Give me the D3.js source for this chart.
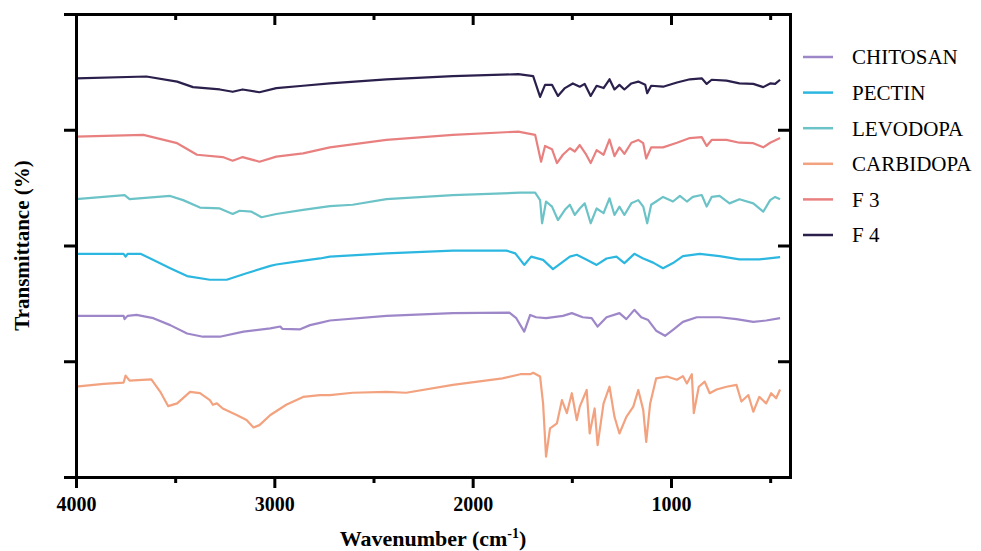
<!DOCTYPE html>
<html>
<head>
<meta charset="utf-8">
<script src="https://cdn.jsdelivr.net/npm/d3@7"></script>
<style>
  body { margin: 0; background: #fff; }
  svg { display: block; }
</style>
</head>
<body>
<div id="chart"></div>
<script>
// legend order and colours
const names = ["CHITOSAN", "PECTIN", "LEVODOPA", "CARBIDOPA", "F 3", "F 4"];
const colors = ["#9e87c9", "#2cb7e1", "#6cc3c7", "#f3a27f", "#e98080", "#2b1f4c"];

const xMajorTicks = [4000, 3000, 2000, 1000];
const xMinorTicks = [3500, 2500, 1500, 500];
const yTicks = [0, 25, 50, 75, 100];

// [wavenumber cm-1, stacked transmittance]
const chitosan = [[4000,34.8],[3760,34.8],[3755,34.1],[3740,34.8],[3695,35.0],[3610,34.3],[3525,32.8],[3440,31.0],
  [3360,30.3],[3275,30.3],[3155,31.4],[3020,32.1],[2970,32.5],[2960,32.0],[2870,31.9],[2820,32.8],[2770,33.3],
  [2720,33.8],[2435,34.8],[2100,35.4],[1815,35.5],[1780,34.3],[1740,31.4],[1710,35.0],[1680,34.5],[1630,34.3],
  [1545,34.8],[1500,35.4],[1445,34.5],[1400,34.3],[1370,32.5],[1325,34.5],[1260,35.4],[1225,34.1],[1185,36.1],
  [1150,34.5],[1115,33.9],[1075,31.6],[1030,30.5],[990,31.8],[940,33.5],[870,34.5],[755,34.5],[670,34.1],
  [585,33.5],[520,33.8],[450,34.3]];

const pectin = [[4000,48.2],[3760,48.2],[3750,47.6],[3740,48.2],[3675,48.2],[3625,47.2],[3525,45.1],[3440,43.4],
  [3325,42.6],[3240,42.6],[3140,44.0],[3020,45.6],[2990,45.9],[2890,46.5],[2770,47.2],[2720,47.6],[2435,48.3],
  [2100,48.9],[1830,48.9],[1785,48.3],[1740,45.8],[1705,47.6],[1645,46.9],[1595,44.9],[1510,47.6],[1475,48.0],
  [1425,46.9],[1375,45.8],[1325,47.2],[1275,47.6],[1235,46.2],[1185,48.2],[1140,47.2],[1090,46.3],[1040,45.1],
  [990,46.2],[940,47.7],[855,48.2],[755,47.7],[655,47.0],[555,47.0],[450,47.5]];

const levodopa = [[4000,60.0],[3755,60.9],[3730,60.0],[3525,60.7],[3460,59.8],[3375,58.2],[3275,58.0],[3210,56.8],
  [3175,57.5],[3115,57.3],[3065,56.1],[2990,56.8],[2855,57.7],[2720,58.5],[2605,58.8],[2435,60.0],[2100,60.9],
  [1760,61.4],[1685,61.4],[1660,59.8],[1650,54.8],[1630,59.5],[1600,58.4],[1570,55.5],[1535,57.7],[1510,58.8],
  [1485,56.6],[1460,58.0],[1435,59.1],[1405,54.8],[1375,58.0],[1340,57.0],[1310,60.2],[1285,56.6],[1260,58.4],
  [1235,56.6],[1200,59.1],[1165,59.8],[1140,58.4],[1120,54.8],[1100,58.8],[1075,59.5],[1040,60.5],[990,59.5],
  [955,60.7],[920,59.5],[890,60.5],[845,60.9],[820,58.4],[795,60.5],[755,60.7],[705,59.1],[655,60.0],
  [585,59.1],[535,57.3],[500,59.8],[475,60.5],[450,60.0]];

const carbidopa = [[4000,19.5],[3860,20.1],[3760,20.4],[3750,21.9],[3730,20.8],[3620,21.1],[3575,18.4],[3535,15.3],
  [3490,15.9],[3425,18.4],[3375,18.1],[3325,16.6],[3310,15.6],[3290,15.9],[3260,14.8],[3190,13.4],[3140,12.3],
  [3105,10.7],[3075,11.2],[3020,13.4],[2940,15.6],[2855,17.3],[2770,17.7],[2720,17.7],[2605,18.2],[2435,18.4],
  [2335,18.2],[2100,19.9],[1850,21.3],[1760,22.2],[1710,22.2],[1695,22.5],[1660,21.7],[1645,15.9],[1630,4.4],
  [1610,10.5],[1575,11.6],[1550,16.6],[1525,13.8],[1500,18.1],[1475,12.3],[1460,15.2],[1425,18.8],[1410,9.4],
  [1385,14.8],[1370,6.9],[1340,15.9],[1310,19.5],[1285,13.0],[1260,9.4],[1225,13.0],[1190,15.2],[1165,18.8],
  [1140,14.5],[1125,7.6],[1105,15.9],[1075,21.3],[1020,21.7],[970,21.0],[940,21.8],[920,20.2],[895,22.2],
  [885,13.8],[860,19.5],[830,20.6],[805,18.1],[770,18.9],[720,19.5],[670,19.9],[645,16.3],[610,17.7],
  [585,14.1],[555,17.3],[520,15.9],[495,18.1],[470,17.0],[450,18.9]];

const f3 = [[4000,73.5],[3660,73.9],[3490,72.1],[3390,69.6],[3260,69.1],[3210,68.3],[3160,69.1],[3075,68.1],
  [2990,69.2],[2855,69.9],[2720,71.2],[2435,72.8],[2100,73.9],[1770,74.6],[1685,73.9],[1655,68.1],[1635,71.5],
  [1600,70.8],[1575,67.8],[1545,69.6],[1510,71.0],[1485,70.3],[1460,71.7],[1430,69.8],[1405,67.8],[1375,70.6],
  [1340,69.6],[1310,72.9],[1285,69.3],[1260,71.2],[1235,69.8],[1200,72.2],[1165,72.8],[1140,72.1],[1125,68.8],
  [1100,71.2],[1040,71.2],[970,72.2],[905,73.2],[845,73.4],[820,71.5],[795,72.8],[720,72.8],[655,72.2],
  [585,72.1],[535,71.2],[500,72.2],[450,73.2]];

const f4 = [[4000,86.1],[3645,86.5],[3490,85.4],[3410,84.2],[3275,83.7],[3210,83.2],[3160,83.7],[3075,83.1],
  [2990,84.0],[2855,84.5],[2720,85.0],[2435,85.9],[2100,86.6],[1770,87.0],[1695,86.6],[1660,82.1],[1635,84.7],
  [1600,84.7],[1570,82.3],[1535,84.0],[1495,85.0],[1460,84.3],[1435,84.9],[1405,82.3],[1375,84.5],[1340,84.0],
  [1310,85.9],[1285,83.7],[1260,84.7],[1235,83.7],[1200,85.0],[1165,85.4],[1130,84.7],[1120,82.9],[1100,84.5],
  [1040,84.3],[970,85.2],[905,85.9],[845,86.1],[820,84.9],[795,85.8],[720,85.6],[655,85.0],[585,84.9],
  [535,84.2],[500,85.0],[475,84.9],[450,85.8]];

const series = [chitosan, pectin, levodopa, carbidopa, f3, f4];

const serif = "'Liberation Serif', 'Times New Roman', serif";

function renderChart() {
    const width = 981;
    const height = 551;
    const margin = { top: 14, right: 191, bottom: 74, left: 76 };

    const svg = d3.select("#chart")
        .append("svg")
        .attr("width", width)
        .attr("height", height);

    // wavenumber runs right to left
    const x = d3.scaleLinear()
        .domain([4000, 400])
        .range([margin.left, width - margin.right]);

    const y = d3.scaleLinear()
        .domain([0, 100])
        .range([height - margin.bottom, margin.top]);

    const line = d3.line()
        .x(d => x(d[0]))
        .y(d => y(d[1]));

    // spectra
    svg.append("g")
        .selectAll("path")
        .data(series)
        .enter()
        .append("path")
        .attr("d", line)
        .attr("fill", "none")
        .attr("stroke", (d, i) => colors[i])
        .attr("stroke-width", 2.2)
        .attr("stroke-linejoin", "round");

    const x0 = margin.left, x1 = width - margin.right;
    const y0 = margin.top, y1 = height - margin.bottom;

    // bottom axis, with labels
    svg.append("g")
        .attr("class", "axis")
        .attr("transform", `translate(0,${y1})`)
        .call(d3.axisBottom(x).tickValues(xMajorTicks).tickSize(11).tickSizeOuter(0)
            .tickPadding(9).tickFormat(d3.format("d")));
    svg.append("g")
        .attr("class", "axis")
        .attr("transform", `translate(0,${y1})`)
        .call(d3.axisBottom(x).tickValues(xMinorTicks).tickSize(6).tickSizeOuter(0).tickFormat(""));

    // top axis, ticks pointing in
    svg.append("g")
        .attr("class", "axis")
        .attr("transform", `translate(0,${y0})`)
        .call(d3.axisBottom(x).tickValues(xMajorTicks.slice(1)).tickSize(11).tickSizeOuter(0).tickFormat(""));
    svg.append("g")
        .attr("class", "axis")
        .attr("transform", `translate(0,${y0})`)
        .call(d3.axisBottom(x).tickValues(xMinorTicks).tickSize(6).tickSizeOuter(0).tickFormat(""));

    // left axis, no labels
    svg.append("g")
        .attr("class", "axis")
        .attr("transform", `translate(${x0},0)`)
        .call(d3.axisLeft(y).tickValues(yTicks).tickSize(12).tickSizeOuter(0).tickFormat(""));

    // right axis, ticks pointing in
    svg.append("g")
        .attr("class", "axis")
        .attr("transform", `translate(${x1},0)`)
        .call(d3.axisLeft(y).tickValues(yTicks.slice(1, 4)).tickSize(12).tickSizeOuter(0).tickFormat(""));

    svg.selectAll(".axis")
        .attr("font-family", serif);
    svg.selectAll(".axis .domain")
        .attr("stroke", "#000")
        .attr("stroke-width", 3)
        .attr("stroke-linecap", "square");
    svg.selectAll(".axis .tick line")
        .attr("stroke", "#000")
        .attr("stroke-width", 3);
    svg.selectAll(".axis text")
        .attr("fill", "#000")
        .attr("style", `font-family:${serif};font-size:20px;font-weight:bold`);

    // axis titles
    const xTitle = svg.append("text")
        .attr("x", (x0 + x1) / 2)
        .attr("y", 546)
        .attr("text-anchor", "middle")
        .attr("style", `font-family:${serif};font-size:22px;font-weight:bold`);
    xTitle.append("tspan").text("Wavenumber (cm");
    xTitle.append("tspan").attr("dy", -8).style("font-size", "14px").text("-1");
    xTitle.append("tspan").attr("dy", 8).text(")");

    svg.append("text")
        .attr("transform", `translate(28.5,${(y0 + y1) / 2}) rotate(-90)`)
        .attr("text-anchor", "middle")
        .attr("style", `font-family:${serif};font-size:21px;font-weight:bold`)
        .text("Transmittance (%)");

    // legend
    const legend = svg.append("g")
        .selectAll("g")
        .data(names)
        .enter()
        .append("g")
        .attr("transform", (d, i) => `translate(803,${57 + i * 35.6})`);

    legend.append("line")
        .attr("x1", 0)
        .attr("x2", 30)
        .attr("stroke", (d, i) => colors[i])
        .attr("stroke-width", 2.5);

    legend.append("text")
        .attr("x", 49)
        .attr("dy", "0.35em")
        .attr("style", `font-family:${serif};font-size:21px`)
        .text(d => d);
}

renderChart();
</script>
</body>
</html>
